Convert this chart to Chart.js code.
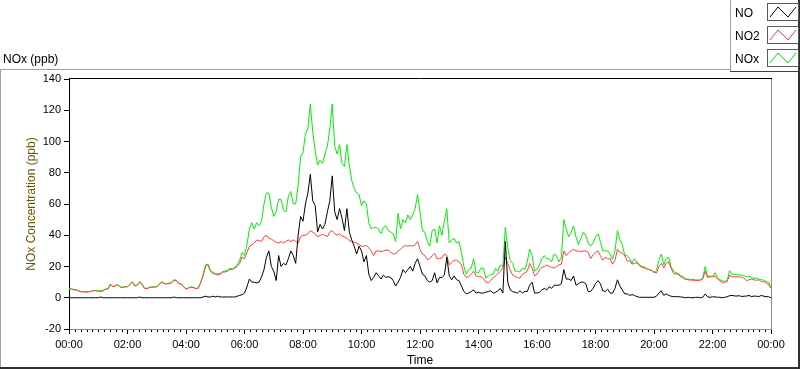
<!DOCTYPE html>
<html><head><meta charset="utf-8">
<script src="https://cdn.jsdelivr.net/npm/chart.js@4.4.0/dist/chart.umd.min.js"></script>
<style>
html,body{margin:0;padding:0;background:#fff;}
#wrap{position:relative;width:800px;height:369px;overflow:hidden;font-family:"Liberation Sans",Arial,sans-serif;background:#fff;}
#c{position:absolute;left:0;top:0;}
.ln{position:absolute;}
.lbl{position:absolute;font-size:12px;line-height:14px;color:#000;white-space:nowrap;}
.sw{position:absolute;left:767px;width:30px;height:16px;border:1px solid #5a5a5a;background:#fff;}
</style></head><body>
<div id="wrap">
<canvas id="c" width="800" height="369"></canvas>
<div class="ln" style="left:0;top:69px;width:731px;height:1px;background:#a0a0a0"></div>
<div class="ln" style="left:0;top:69px;width:1px;height:300px;background:#a0a0a0"></div>
<div class="ln" style="left:0;top:367px;width:800px;height:2px;background:#303030"></div>
<div class="ln" style="left:798px;top:0;width:2px;height:369px;background:#303030"></div>
<div class="ln" style="left:730px;top:0;width:1px;height:72px;background:#a0a0a0"></div>
<div class="ln" style="left:730px;top:71px;width:70px;height:1px;background:#404040"></div>
<div class="lbl" style="left:3px;top:52px;">NOx (ppb)</div>
<div class="lbl" style="left:735px;top:6px;">NO</div>
<div class="lbl" style="left:735px;top:29px;">NO2</div>
<div class="lbl" style="left:735px;top:52px;">NOx</div>
<svg class="sw" style="top:3px" width="30" height="16"><polyline points="2,13 10,3 20,13 28,3" fill="none" stroke="#000" stroke-width="1"/></svg>
<svg class="sw" style="top:26px" width="30" height="16"><polyline points="2,13 10,3 20,13 28,3" fill="none" stroke="#ff4040" stroke-width="1"/></svg>
<svg class="sw" style="top:49px" width="30" height="16"><polyline points="2,13 10,3 20,13 28,3" fill="none" stroke="#00f000" stroke-width="1"/></svg>
</div>
<script>
// Time axis tick labels (every 2 hours)
const TICK_LABELS = ['00:00','02:00','04:00','06:00','08:00','10:00','12:00','14:00','16:00','18:00','20:00','22:00','00:00'];
// Y axis tick values
const Y_TICKS = [-20,0,20,40,60,80,100,120,140];

// Readings every 5 minutes from 00:00 to 24:00 (ppb)
const NO = [
0,0,0,0,0,0,0,0,0,0,0,0,
0,0.5,0,0,0,0,0,0,0,0,0,0,
0,0,0,0,0,0.5,0,0,0,0,0,0,
0,0,0,0,0,0,0,0.5,0,0,0,0,
0,0,0,0,0,0,0,0.5,1,0.5,0.5,1,
0.5,1,0.5,0.5,0.5,0.5,0.5,0.5,0.5,1,1.5,2,
3,7,12,10,10,9.5,10,13.5,18,26,30,20,
17,11,27,20,22,21,25,30,27,22,40,52,
49,60,67,79,62,59,42,47,44,47,55,62,
78,55,50,57,51,43,57,42,37,33,28,33,
30,23,27,15,11,13,16,14,12,14.5,13,13.5,
13,11,7.5,10,13,18,16,18,20,17,22,25,
20,15,14,11,10,11,16,9.5,13,13,14.5,26,
14,11.5,14,11.5,11,7.5,4,2.5,3,4,5,3,
3.5,3,3,3.5,4,4.5,3,3.5,4.5,6,3,36,
10,5,4,3.5,3,4.5,3,4,4,8,10,3,
3,3.5,5,6,5,7,6,8,8,8,9,18,
12,12,11,14,8,9,10,10,9,4,4,6,
9,11,9,4.5,4,5.5,3,3,6,11.5,7.5,5,
2.5,2.5,1.5,2,1.5,0.7,0.3,0.3,0.3,0.3,0.3,0.3,
0.3,1,3,4.5,1.5,2.5,1.5,1,0.7,0.7,0.7,0.5,
0.3,0,0.3,0,0,0.3,0.3,0,0.3,2.4,0.6,0.3,
0.6,0.6,0.3,0.3,0,0.3,0.6,1.3,1.5,1.2,1.1,1.3,
0.8,1,1.1,1.5,0.7,1.1,1,0.7,1.5,1,0.7,0.7,
0
];
const NO2 = [
5.4,5.6,5,5,4.2,3.8,3.7,3.6,3.7,4,4.5,4.5,
4.2,3.9,4.5,5.4,5.6,8.5,7,7.5,8.4,6.8,6.5,7,
7,8.5,10,7.5,8,9.8,8.5,6,5.8,6.5,6.8,6.8,
7,8.5,10,9,8.8,9,9.5,11,11,9,8.8,7,
5.5,6.2,6.7,6.5,5.8,6,9.5,14,20,21,17,15.5,
15,14.5,15,16.3,16.5,17,18.3,18,19,20,22,26,
25,29,33,33.7,35,37,36.5,36,39,40,38,37.5,
36.5,35.5,35,36,35,36,37,36,37,36,35,39,
40,40,41,43,42,41,39,40,40.5,40,39,42,
43,41,40,41,39.5,39,38,36.5,36,35.5,35,34,
33,33,33.5,32,30,27,30,30,29.5,30,30.5,30.5,
29,28,28,30,31,32.5,33.5,33,33.5,33,34,36,
31,28,27,24.5,25,27,28.5,25,25,25.5,28,27,
21,22.5,24,24,23,21,15,13,13.5,15,17,14,
13.5,13.5,12.5,10,9.5,11,13,14,15.5,17,19,26,
22,18,14.5,13.5,13,12.5,15,16,17,22,19,14,
15,18,19.5,20,21,20,19.5,19,20,21,21.5,30,
27,29,30,31,30,30,29.5,30,30,29,25,27.5,
29,30,27,24,26,25,25,21.5,24,31,29,28.5,
27,23.5,23.5,21.5,22,22.5,20.5,19.5,19,18.5,18,17.5,
16.5,15.8,20,22,19,22,23,19,15.6,15.3,15,13.4,
12.5,11.7,11.5,11.3,11.3,11,11,11.3,12,17,13,13.5,
13.4,14,12,11,9.8,10,10.3,14.5,13.4,13.4,13.4,13.4,
13,12.5,11,11.5,12,11.5,11.2,11.5,10.3,10.3,9.4,8.5,
6
];
const NOX = [
5.6,5.8,5.2,5.2,4.4,4,3.9,3.8,3.9,4.2,4.7,4.7,
4.4,4.6,4.7,5.6,5.8,8.8,7.2,7.7,8.6,7,6.7,7.2,
7.2,8.7,10.3,7.7,8.2,10.5,8.7,6.2,6,6.7,7,7,
7.2,8.7,10.3,9.2,9,9.2,9.7,11.6,11.2,9.2,9,7.2,
5.7,6.4,6.9,6.7,6,6.2,9.7,14.5,21,21.5,17.5,16.5,
15.5,15.5,15.5,16.8,17,17.5,18.8,18.5,19.5,21,24,29,
27,34,44,48,44,48,46,49,60,67,67,58,
52,55,63,63,56,55,65,68,60,60,72,90,
93,105,108,124,106,94,85,88,86,92,97,108,
124,97,92,98,86,84,98,85,75,70,67,66,
59,62,60,48,44,45,45,44,41,45,46,43,
42,41,36,54,44,50,48,53,50,53,57,66,
55,43,42,36,33,43,44,35,46,40,49,57,
35,37,38,35,36,29,20,15,18,19,25,16,
16,19,19,12.5,14,15,15,19,17,21,20,45,
32,24,22,17,17,16.5,19,18,23,31,27,17,
18,21,25,27,25,25,23,28,27,23,26,50,
44,39,42,46,39,34,38,42,40,35,33,35,
39,41,36,30,30,30,28,24.5,30,43,37,34,
27,27,25,22,25,23,21,20,19.8,18.5,18,17.5,
16,17.5,24,28,21,25,26,20,17,16,15.6,14,
13.5,12,12,11.6,11.7,11.5,11.3,11.5,12.5,20,13.4,14,
13.4,16,13.4,11.5,11,10.5,10.8,17.3,15,15,15,14.5,
14.5,14,13.4,14,13,12.5,12.5,12,11.5,11.3,10.3,10,
6
];

const MINUTES = NO.map((_, i) => i * 5);
const FONT = '"Liberation Sans", Arial, sans-serif';
const pts = arr => MINUTES.map((m, i) => ({x: m, y: arr[i]}));

const framePlugin = {
  id: 'frame',
  afterDraw(chart) {
    const c = chart.ctx, a = chart.chartArea, xs = chart.scales.x;
    c.save();
    c.lineWidth = 1;
    // minor ticks every 12 minutes
    c.strokeStyle = '#000';
    c.beginPath();
    for (let m = 0; m <= 1440; m += 12) {
      if (m % 120 === 0) continue;
      const px = Math.round(xs.getPixelForValue(m)) + 0.5;
      c.moveTo(px, a.bottom + 1);
      c.lineTo(px, a.bottom + 3);
    }
    c.stroke();
    // top border (black) and right border (gray)
    c.beginPath();
    c.strokeStyle = '#000';
    c.moveTo(a.left, Math.round(a.top) - 0.5);
    c.lineTo(a.right + 1, Math.round(a.top) - 0.5);
    c.stroke();
    c.beginPath();
    c.strokeStyle = '#8c8c8c';
    c.moveTo(Math.round(a.right) + 0.5, a.top);
    c.lineTo(Math.round(a.right) + 0.5, a.bottom);
    c.stroke();
    c.restore();
  }
};

new Chart(document.getElementById('c'), {
  type: 'line',
  data: {
    datasets: [
      {label: 'NO', data: pts(NO), borderColor: '#000000', borderWidth: 1, pointRadius: 0, tension: 0},
      {label: 'NO2', data: pts(NO2), borderColor: '#ff4040', borderWidth: 1, pointRadius: 0, tension: 0},
      {label: 'NOx', data: pts(NOX), borderColor: '#00f000', borderWidth: 1, pointRadius: 0, tension: 0}
    ]
  },
  options: {
    responsive: false,
    animation: false,
    events: [],
    layout: {padding: {left: 0, right: 29, top: 79, bottom: 0}},
    plugins: {legend: {display: false}, title: {display: false}, tooltip: {enabled: false}},
    scales: {
      x: {
        type: 'linear', min: 0, max: 1440,
        afterFit(s) { s.height = 40; },
        ticks: {stepSize: 120, autoSkip: false, maxRotation: 0, padding: 4, color: '#000',
                font: {family: FONT, size: 11},
                callback: v => TICK_LABELS[Math.round(v / 120)]},
        grid: {drawOnChartArea: false, drawTicks: true, tickLength: 5, tickColor: '#000'},
        border: {display: true, color: '#8c8c8c'},
        title: {display: true, text: 'Time', color: '#000', font: {family: FONT, size: 12}, padding: {top: 0, bottom: 1}}
      },
      y: {
        min: -20, max: 140,
        afterFit(s) { s.width = 69; },
        afterBuildTicks(s) { s.ticks = Y_TICKS.map(v => ({value: v})); },
        ticks: {padding: 3, color: '#000', font: {family: FONT, size: 11}},
        grid: {drawOnChartArea: false, drawTicks: true, tickLength: 5, tickColor: '#000'},
        border: {display: true, color: '#000'},
        title: {display: true, text: 'NOx Concentration (ppb)', color: '#6b5500', font: {family: FONT, size: 12}, padding: {top: 24, bottom: 0}}
      }
    }
  },
  plugins: [framePlugin]
});
</script>
</body></html>
